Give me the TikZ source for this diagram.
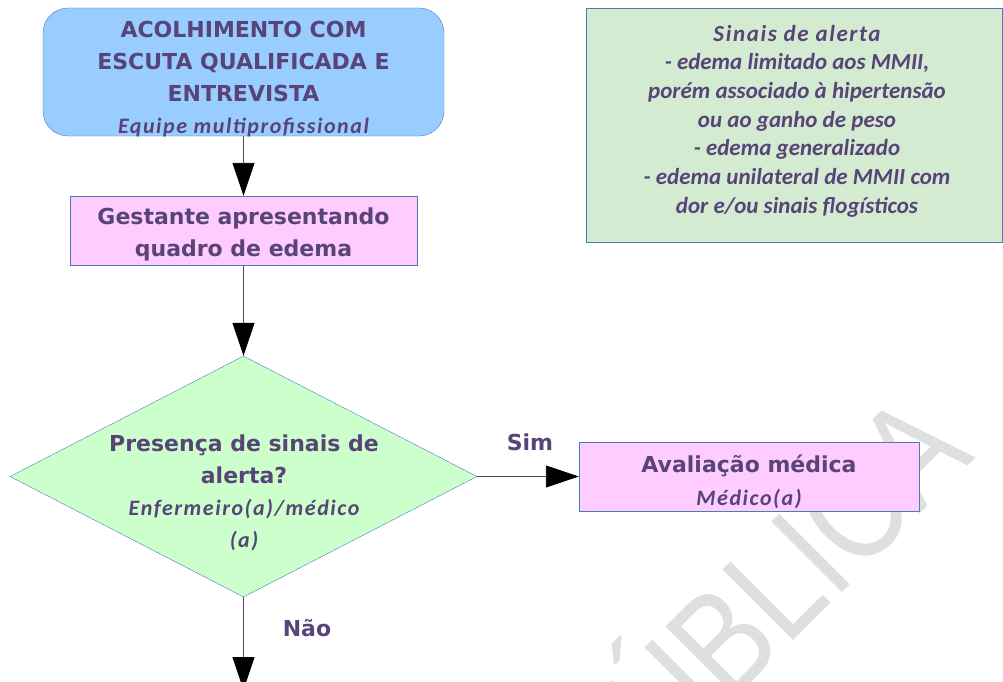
\documentclass[tikz,border=0pt]{standalone}
\usepackage{fontspec}
\setmainfont{DejaVu Sans}
\newfontfamily\itfont{Carlito}
\newfontfamily\itspaced{Carlito}[LetterSpace=7]
\newfontfamily\markfont{Liberation Sans}
\usetikzlibrary{shapes.geometric,arrows.meta}

\definecolor{txtpurple}{RGB}{88,68,120}
\definecolor{borderblue}{RGB}{74,126,187}
\definecolor{boxblue}{RGB}{153,204,255}
\definecolor{boxpink}{RGB}{255,204,255}
\definecolor{diagreen}{RGB}{204,255,204}
\definecolor{infogreen}{RGB}{211,235,208}
\definecolor{linegray}{RGB}{80,80,80}

\newcommand{\quem}[1]{{\itspaced\bfseries\itshape #1}}

\begin{document}
\begin{tikzpicture}[x=1pt,y=-1pt]

    \tikzset{startbox/.style = {rectangle,rounded corners=25pt,fill=boxblue,draw=borderblue,
                                minimum width=401pt,minimum height=128pt,inner sep=0pt}}
    \tikzset{stepbox/.style = {rectangle,fill=boxpink,draw=borderblue,inner sep=0pt}}
    \tikzset{decision/.style = {diamond,fill=diagreen,draw=borderblue,
                                minimum width=467pt,minimum height=241pt,inner sep=0pt}}
    \tikzset{infobox/.style = {rectangle,fill=infogreen,draw=borderblue,
                               minimum width=416pt,minimum height=234pt}}
    \tikzset{txt/.style = {align=center,text=txtpurple,inner sep=0pt,
                           font=\bfseries\fontsize{22}{32}\selectfont}}
    \tikzset{edge/.style = {draw=linegray,line width=0.9pt,
                            -{Triangle[length=33pt,width=22pt,color=black]}}}

    \useasboundingbox (0,0) rectangle (1003,682);

    % marca d'agua
    \node[rotate=45,xscale=0.83,anchor=base east,text=gray!25,inner sep=0pt,
          font=\markfont\fontsize{145}{145}\selectfont] (marca) at (976,458) {PÚBLICA};

    \node[startbox] (acolhe) at (243.5,72) {};
    \node[txt] (acolhetxt) at (243.5,79) {ACOLHIMENTO COM\\ESCUTA QUALIFICADA E\\ENTREVISTA\\\quem{Equipe multiprofissional}};

    \node[stepbox,minimum width=347pt,minimum height=69pt] (gestante) at (243.5,230.5) {};
    \node[txt] (gestantetxt) at (243.5,234.5) {Gestante apresentando\\quadro de edema};

    \node[decision] (alerta) at (243.5,476.5) {};
    \node[txt] (alertatxt) at (244,493) {Presença de sinais de\\alerta?\\\quem{Enfermeiro(a)/médico}\\\quem{(a)}};

    \node[stepbox,minimum width=340pt,minimum height=69pt] (avalia) at (749,476.5) {};
    \node[txt,font=\bfseries\fontsize{22}{33}\selectfont] (avaliatxt) at (749,481.5) {Avaliação médica\\\quem{Médico(a)}};

    \node[infobox] (sinais) at (794,125) {};
    \node[txt,font=\itfont\bfseries\itshape\fontsize{23}{28.7}\selectfont] (sinaistxt) at (797,121)
        {{\itspaced Sinais de alerta}\\- edema limitado aos MMII,\\porém associado à hipertensão\\ou ao ganho de peso\\- edema generalizado\\- edema unilateral de MMII com\\dor e/ou sinais flogísticos};

    \node[txt] (sim) at (530,442) {Sim};
    \node[txt] (nao) at (307,628) {Não};
    \coordinate (segue) at (243.5,690);

    \draw[edge] (acolhe) -- (gestante);
    \draw[edge] (gestante) -- (alerta);
    \draw[edge] (alerta) -- (avalia);
    \draw[edge] (alerta) -- (segue);

\end{tikzpicture}
\end{document}
